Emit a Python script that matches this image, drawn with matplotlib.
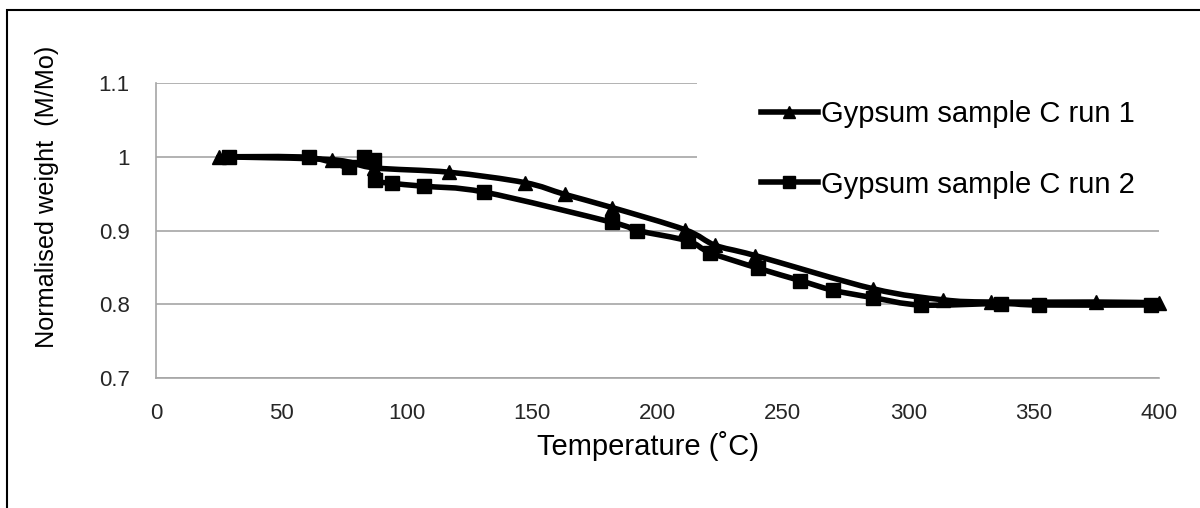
import matplotlib
matplotlib.use("Agg")
import matplotlib.pyplot as plt
from matplotlib.path import Path
from matplotlib.patches import PathPatch, Rectangle
from matplotlib.lines import Line2D
import numpy as np

plt.rcParams['font.family'] = ['Liberation Sans', 'DejaVu Sans']

# Thermogravimetric data: temperature (°C) vs normalised weight (M/Mo)
run1_temp = [25, 70, 87, 117, 147, 163, 182, 211, 223, 239, 286, 314, 333, 375, 400]
run1_weight = [1.000, 0.996, 0.985, 0.979, 0.965, 0.949, 0.931, 0.901, 0.880,
               0.866, 0.821, 0.806, 0.803, 0.803, 0.802]

run2_temp = [29, 61, 77, 83, 87, 87.5, 94, 107, 131, 182, 192, 212, 221, 240,
             257, 270, 286, 305, 337, 352, 397]
run2_weight = [1.000, 0.999, 0.986, 1.000, 0.996, 0.969, 0.964, 0.960, 0.952,
               0.911, 0.900, 0.886, 0.870, 0.849, 0.832, 0.819, 0.809, 0.799,
               0.801, 0.799, 0.799]

series_labels = ["Gypsum sample C run 1", "Gypsum sample C run 2"]
x_ticks = [0, 50, 100, 150, 200, 250, 300, 350, 400]
y_ticks = [0.7, 0.8, 0.9, 1.0, 1.1]
y_tick_labels = ["0.7", "0.8", "0.9", "1", "1.1"]


def smooth_path(xs, ys):
    """Cubic Bezier path through the points (Catmull-Rom style control points)."""
    pts = np.column_stack([xs, ys]).astype(float)
    n = len(pts)
    verts = [pts[0]]
    codes = [Path.MOVETO]
    for i in range(n - 1):
        p0 = pts[i - 1] if i > 0 else pts[i]
        p1 = pts[i]
        p2 = pts[i + 1]
        p3 = pts[i + 2] if i + 2 < n else pts[i + 1]
        c1 = p1 + (p2 - p0) / 6.0
        c2 = p2 - (p3 - p1) / 6.0
        verts += [c1, c2, p2]
        codes += [Path.CURVE4] * 3
    return Path(verts, codes)


fig = plt.figure(figsize=(12, 5.08), dpi=100)
ax = fig.add_axes([0.13, 0.2559, 0.8358, 0.5807])

LW = 4.0
grid_col = "#A6A6A6"
text_col = "#262626"

series = [
    (run1_temp, run1_weight, "^", 10.5),
    (run2_temp, run2_weight, "s", 10),
]
handles = []
for (xs, ys, mk, ms), lab in zip(series, series_labels):
    ax.add_patch(PathPatch(smooth_path(xs, ys), fill=False, edgecolor="black",
                           lw=LW, capstyle="round", joinstyle="round", zorder=3))
    ax.plot(xs, ys, linestyle="none", marker=mk, markersize=ms,
            color="black", zorder=4, clip_on=False)
    handles.append(Line2D([], [], color="black", lw=LW, marker=mk,
                          markersize=ms * 0.8, label=lab))

ax.set_xlim(0, 400)
ax.set_ylim(0.7, 1.1)
ax.set_xticks(x_ticks)
ax.set_yticks(y_ticks)
ax.set_yticklabels(y_tick_labels)
ax.tick_params(length=0, labelsize=16, labelcolor=text_col)
ax.tick_params(axis="y", pad=19)
ax.tick_params(axis="x", pad=18)
ax.yaxis.grid(True, color=grid_col, lw=1.2)
ax.set_axisbelow(True)
for s in ["top", "right"]:
    ax.spines[s].set_visible(False)
for s in ["left", "bottom"]:
    ax.spines[s].set_color(grid_col)
    ax.spines[s].set_linewidth(1.2)

ax.set_xlabel("Temperature (˚C)", fontsize=21, color="black")
ax.xaxis.set_label_coords(0.491, -0.18)
ax.set_ylabel("Normalised weight  (M/Mo)", fontsize=18.2, color="black")
ax.yaxis.set_label_coords(-0.097, 0.614)

# legend area (white box hiding gridlines behind it)
ax.add_patch(Rectangle((0.539, 0.56), 0.5, 0.5, transform=ax.transAxes,
                       facecolor="white", edgecolor="none", zorder=2, clip_on=False))
leg = ax.legend(handles=handles, loc="upper left", bbox_to_anchor=(0.574, 1.04),
                fontsize=21, frameon=False, handlelength=1.95, handletextpad=0.12,
                labelspacing=1.45, borderpad=0.5)
leg.set_zorder(5)

# chart frame
fig.add_artist(Rectangle((7 / 1200, -0.5), 2, 1.5 - 10 / 508, fill=False,
                         edgecolor="black", lw=1.5, transform=fig.transFigure))

fig.savefig("out.png", dpi=100, facecolor="white")
